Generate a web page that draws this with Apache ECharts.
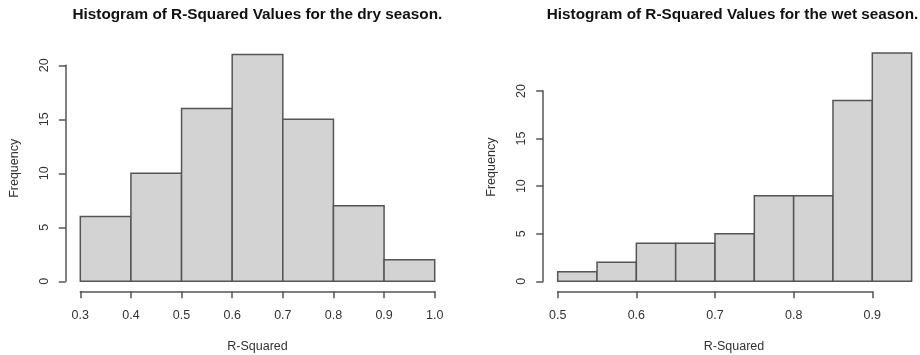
<!DOCTYPE html>
<html>
<head>
<meta charset="utf-8">
<script src="https://cdn.jsdelivr.net/npm/echarts@6/dist/echarts.min.js"></script>
<style>
  html, body { margin: 0; padding: 0; background: #fff; }
  #chart { width: 920px; height: 355px; }
</style>
</head>
<body>
<div id="chart"></div>
<script>
// Histogram bin edges and counts for each season
const dryBreaks = [0.3, 0.4, 0.5, 0.6, 0.7, 0.8, 0.9, 1.0];
const dryCounts = [6, 10, 16, 21, 15, 7, 2];
const wetBreaks = [0.5, 0.55, 0.6, 0.65, 0.7, 0.75, 0.8, 0.85, 0.9, 0.95];
const wetCounts = [1, 2, 4, 4, 5, 9, 9, 19, 24];

// Tick ranges shown on the axes
const dryXTicks = [0.3, 1.0];
const wetXTicks = [0.5, 0.9];
const freqTicks = [0, 20];

const titles = [
  'Histogram of R-Squared Values for the dry season.',
  'Histogram of R-Squared Values for the wet season.'
];
const xLabel = 'R-Squared';
const yLabel = 'Frequency';

const FONT = '"Liberation Sans", Arial, Helvetica, sans-serif';
const AXIS_COLOR = '#555';
const TEXT_COLOR = '#333';

function binsOf(breaks, counts) {
  return counts.map((c, i) => [breaks[i], breaks[i + 1], c]);
}

function renderBin(params, api) {
  const p0 = api.coord([api.value(0), 0]);
  const p1 = api.coord([api.value(1), api.value(2)]);
  return {
    type: 'rect',
    shape: { x: p0[0], y: p1[1], width: p1[0] - p0[0], height: p0[1] - p1[1] },
    style: { fill: '#d3d3d3', stroke: '#555', lineWidth: 1.5 }
  };
}

function xAxisOf(gridIndex, range, namePad) {
  return {
    type: 'value', gridIndex, min: range[0], max: range[1], interval: 0.1,
    offset: 10,
    axisLine: { show: true, onZero: false, lineStyle: { color: AXIS_COLOR, width: 1.5 } },
    axisTick: { show: true, length: 7, lineStyle: { color: AXIS_COLOR, width: 1.5 } },
    splitLine: { show: false },
    axisLabel: {
      color: TEXT_COLOR, fontSize: 12.5, fontFamily: FONT, margin: 18,
      formatter: v => v.toFixed(1)
    },
    name: xLabel, nameLocation: 'middle', nameGap: 49,
    nameTextStyle: { color: TEXT_COLOR, fontSize: 12.5, fontFamily: FONT, padding: namePad }
  };
}

function yAxisOf(gridIndex, namePad) {
  return {
    type: 'value', gridIndex, min: freqTicks[0], max: freqTicks[1], interval: 5,
    offset: 14.5,
    axisLine: { show: true, onZero: false, lineStyle: { color: AXIS_COLOR, width: 1.5 } },
    axisTick: { show: true, length: 7, lineStyle: { color: AXIS_COLOR, width: 1.5 } },
    splitLine: { show: false },
    axisLabel: {
      color: TEXT_COLOR, fontSize: 12.5, fontFamily: FONT, margin: 15, rotate: 90
    },
    name: yLabel, nameLocation: 'middle', nameGap: 45, nameRotate: 90,
    nameTextStyle: { color: TEXT_COLOR, fontSize: 12.5, fontFamily: FONT, padding: namePad }
  };
}

const chart = echarts.init(document.getElementById('chart'), null, { renderer: 'canvas' });
chart.setOption({
  animation: false,
  backgroundColor: '#ffffff',
  title: [
    { text: titles[0], left: 252.4, top: 2, textAlign: 'center',
      textStyle: { fontSize: 15.3, fontWeight: 'bold', color: '#111', fontFamily: FONT } },
    { text: titles[1], left: 727.5, top: 2, textAlign: 'center',
      textStyle: { fontSize: 15.3, fontWeight: 'bold', color: '#111', fontFamily: FONT } }
  ],
  grid: [
    { left: 80.3, right: 485.3, top: 65.3, bottom: 73.7, outerBoundsMode: 'none' },
    { left: 557.7, right: 47.7, top: 91, bottom: 73.7, outerBoundsMode: 'none' }
  ],
  xAxis: [
    xAxisOf(0, dryXTicks, [0, 0, 0, 0]),
    xAxisOf(1, wetXTicks, [0, 0, 0, 38])
  ],
  yAxis: [
    yAxisOf(0, [0, 0, 0, 10]),
    yAxisOf(1, [0, 0, 0, 38])
  ],
  series: [
    { type: 'custom', xAxisIndex: 0, yAxisIndex: 0, clip: false,
      renderItem: renderBin, data: binsOf(dryBreaks, dryCounts) },
    { type: 'custom', xAxisIndex: 1, yAxisIndex: 1, clip: false,
      renderItem: renderBin, data: binsOf(wetBreaks, wetCounts) }
  ]
});
</script>
</body>
</html>
